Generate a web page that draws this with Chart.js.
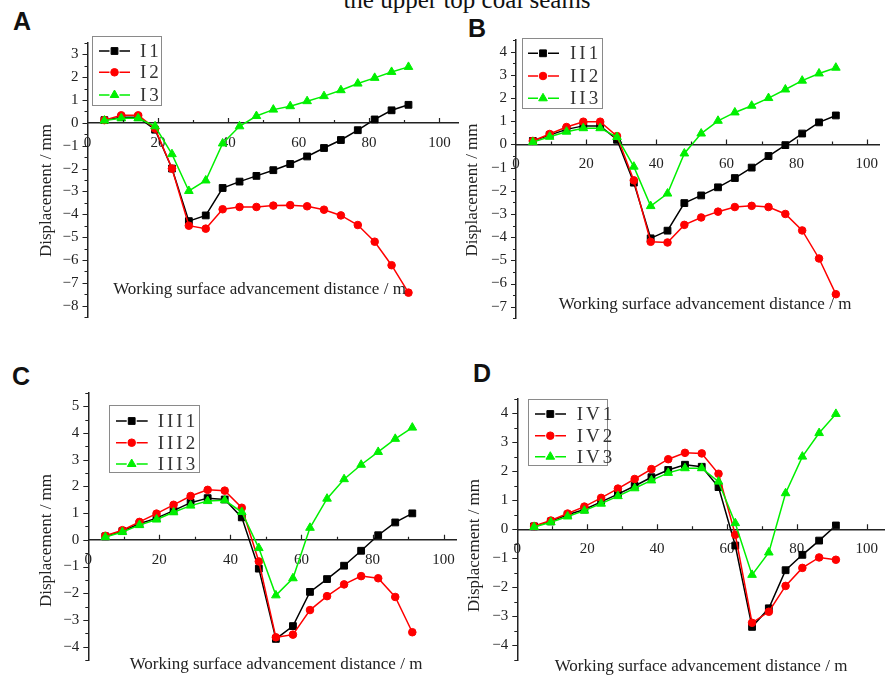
<!DOCTYPE html>
<html><head><meta charset="utf-8">
<script src="https://cdn.jsdelivr.net/npm/chart.js@4.4.0/dist/chart.umd.min.js"></script>
<style>
html,body{margin:0;padding:0;background:#fff;width:889px;height:678px;overflow:hidden;position:relative}
canvas{position:absolute;left:0;top:0}
.t{position:absolute;white-space:nowrap;color:#111}
.lab{font:bold 25px "Liberation Sans";line-height:25px}
</style></head><body>
<div class="t" style="left:0;width:934px;text-align:center;top:-12.6px;font:25px 'Liberation Serif';line-height:25px">the upper top coal seams</div>
<div class="t lab" style="left:13px;top:9px">A</div>
<div class="t lab" style="left:468px;top:16px">B</div>
<div class="t lab" style="left:12px;top:364px">C</div>
<div class="t lab" style="left:473px;top:361px">D</div>
<canvas id="cA" width="889" height="678"></canvas>
<canvas id="cB" width="889" height="678"></canvas>
<canvas id="cC" width="889" height="678"></canvas>
<canvas id="cD" width="889" height="678"></canvas>
<script>
// ---- data ----
const X = [4.8, 9.6, 14.4, 19.2, 24.0, 28.8, 33.6, 38.4, 43.2, 48.0, 52.8, 57.6, 62.4, 67.2, 72.0, 76.8, 81.6, 86.4, 91.2];
const X_TICKS = [0, 20, 40, 60, 80, 100];

const I1 = [0.12, 0.25, 0.25, -0.3, -2.0, -4.3, -4.05, -2.85, -2.57, -2.32, -2.07, -1.8, -1.47, -1.1, -0.75, -0.32, 0.15, 0.55, 0.79];
const I2 = [0.12, 0.33, 0.33, -0.25, -2.0, -4.5, -4.63, -3.78, -3.68, -3.68, -3.62, -3.6, -3.65, -3.8, -4.05, -4.47, -5.2, -6.23, -7.43];
const I3 = [0.1, 0.2, 0.2, -0.15, -1.37, -2.98, -2.52, -0.9, -0.15, 0.3, 0.58, 0.73, 0.95, 1.17, 1.43, 1.72, 1.97, 2.23, 2.45];

const II1 = [0.15, 0.4, 0.65, 0.8, 0.8, 0.2, -1.65, -4.05, -3.72, -2.53, -2.2, -1.85, -1.45, -1.0, -0.5, -0.03, 0.47, 0.95, 1.25];
const II2 = [0.15, 0.45, 0.75, 0.98, 0.98, 0.36, -1.55, -4.2, -4.23, -3.47, -3.15, -2.9, -2.7, -2.65, -2.7, -3.0, -3.71, -4.92, -6.46];
const II3 = [0.1, 0.33, 0.55, 0.7, 0.7, 0.32, -0.96, -2.66, -2.12, -0.39, 0.47, 1.02, 1.38, 1.67, 2.0, 2.37, 2.75, 3.06, 3.31];

const III1 = [0.13, 0.33, 0.6, 0.81, 1.09, 1.39, 1.56, 1.51, 0.84, -1.08, -3.71, -3.23, -1.95, -1.47, -0.97, -0.41, 0.17, 0.65, 0.99];
const III2 = [0.15, 0.36, 0.67, 0.98, 1.31, 1.64, 1.87, 1.84, 1.2, -0.81, -3.65, -3.55, -2.63, -2.11, -1.67, -1.36, -1.44, -2.14, -3.46];
const III3 = [0.1, 0.29, 0.55, 0.76, 1.03, 1.28, 1.45, 1.48, 1.04, -0.31, -2.08, -1.44, 0.45, 1.54, 2.27, 2.81, 3.29, 3.78, 4.2];

const IV1 = [0.1, 0.27, 0.5, 0.68, 0.94, 1.21, 1.49, 1.79, 2.04, 2.22, 2.15, 1.45, -0.56, -3.36, -2.72, -1.41, -0.88, -0.39, 0.13];
const IV2 = [0.11, 0.3, 0.54, 0.78, 1.08, 1.4, 1.73, 2.07, 2.41, 2.63, 2.61, 1.91, -0.19, -3.22, -2.84, -1.95, -1.33, -0.97, -1.05];
const IV3 = [0.08, 0.24, 0.44, 0.64, 0.88, 1.14, 1.41, 1.68, 1.94, 2.1, 2.1, 1.64, 0.21, -1.57, -0.8, 1.24, 2.5, 3.31, 3.97];

const Y_TICKS_A = [-8, -7, -6, -5, -4, -3, -2, -1, 0, 1, 2, 3];
const Y_TICKS_B = [-7, -6, -5, -4, -3, -2, -1, 0, 1, 2, 3, 4];
const Y_TICKS_C = [-4, -3, -2, -1, 0, 1, 2, 3, 4, 5];
const Y_TICKS_D = [-4, -3, -2, -1, 0, 1, 2, 3, 4];

const X_TITLE = 'Working surface advancement distance / m';
const Y_TITLE = 'Displacement / mm';

// ---- styles ----
const COLORS = ['#000000', '#ff0000', '#00f000'];
const STYLES = ['rect', 'circle', 'triangle'];
const RADII = [4.8, 3.8, 5];
const SERIF = "'Liberation Serif', 'Times New Roman', serif";
const TXT = '#222';
Chart.defaults.font.family = SERIF;
Chart.defaults.font.size = 15;
Chart.defaults.color = TXT;

function fmt(v) { return v < 0 ? '\u2212' + Math.abs(v) : String(v); }

function marker(ctx, style, r, x, y) {
  ctx.beginPath();
  if (style === 'rect') { const s = Math.SQRT1_2 * r; ctx.rect(x - s, y - s, 2 * s, 2 * s); }
  else if (style === 'circle') { ctx.arc(x, y, r, 0, Math.PI * 2); }
  else { ctx.moveTo(x, y - r); ctx.lineTo(x + r * Math.sin(Math.PI / 3), y + r / 2); ctx.lineTo(x - r * Math.sin(Math.PI / 3), y + r / 2); ctx.closePath(); }
  ctx.fill(); ctx.stroke();
}

const axisDecor = {
  id: 'axisDecor',
  afterDraw(chart, args, o) {
    const {ctx, scales: {x, y}} = chart;
    const y0 = y.getPixelForValue(0);
    const xl = x.getPixelForValue(0);
    ctx.save();
    ctx.strokeStyle = TXT; ctx.lineWidth = 1.2;
    ctx.beginPath();
    for (let k = Math.ceil(y.min * 2); k <= Math.floor(y.max * 2); k++) {
      const py = Math.round(y.getPixelForValue(k / 2)) + 0.5;
      const len = (k % 2 === 0) ? 5 : 3;
      ctx.moveTo(xl - len, py); ctx.lineTo(xl, py);
    }
    for (let v = 10; v <= x.max; v += 10) {
      const px = Math.round(x.getPixelForValue(v)) + 0.5;
      const len = (v % 20 === 0) ? 5 : 3;
      ctx.moveTo(px, y0); ctx.lineTo(px, y0 - len);
    }
    ctx.stroke();
    ctx.fillStyle = TXT;
    ctx.font = '17px ' + SERIF;
    ctx.textAlign = 'center'; ctx.textBaseline = 'alphabetic';
    ctx.fillText(X_TITLE, o.xtx, o.xty);
    ctx.translate(o.ytx, o.yty); ctx.rotate(-Math.PI / 2);
    ctx.textBaseline = 'middle';
    ctx.fillText(Y_TITLE, 0, 0);
    ctx.restore();
  }
};

const boxLegend = {
  id: 'boxLegend',
  afterDraw(chart, args, o) {
    const ctx = chart.ctx;
    ctx.save();
    ctx.strokeStyle = '#8a8a8a'; ctx.lineWidth = 1;
    ctx.strokeRect(Math.round(o.x) + 0.5, Math.round(o.y) + 0.5, Math.round(o.w), Math.round(o.h));
    chart.data.datasets.forEach((ds, i) => {
      const cy = o.rows[i];
      ctx.strokeStyle = ds.borderColor; ctx.fillStyle = ds.backgroundColor; ctx.lineWidth = 1.5;
      ctx.beginPath();
      ctx.moveTo(o.lx0, cy); ctx.lineTo(o.lm - 5, cy);
      ctx.moveTo(o.lm + 5, cy); ctx.lineTo(o.lx1, cy);
      ctx.stroke();
      ctx.lineWidth = 1;
      marker(ctx, ds.pointStyle, ds.pointRadius, o.lm, cy);
      ctx.fillStyle = '#333';
      ctx.font = '19px ' + SERIF;
      if ('letterSpacing' in ctx) ctx.letterSpacing = '3px';
      ctx.textAlign = 'left'; ctx.textBaseline = 'middle';
      ctx.fillText(ds.label, o.tx, cy + 1);
      if ('letterSpacing' in ctx) ctx.letterSpacing = '0px';
    });
    ctx.restore();
  }
};

function makePanel(id, names, series, p) {
  return new Chart(document.getElementById(id), {
    type: 'line',
    data: {
      datasets: series.map((s, i) => ({
        label: names[i],
        data: X.map((xv, j) => ({x: xv, y: s[j]})),
        borderColor: COLORS[i], backgroundColor: COLORS[i],
        pointStyle: STYLES[i], pointRadius: RADII[i], pointBorderWidth: 1,
        borderWidth: 1.5, tension: 0, order: 2 - i
      }))
    },
    options: {
      responsive: false, animation: false, events: [],
      layout: {padding: p.pad, autoPadding: false},
      plugins: {
        legend: {display: false}, tooltip: {enabled: false},
        axisDecor: p.titles, boxLegend: p.legend
      },
      scales: {
        x: {
          type: 'linear', position: {y: 0}, min: 0, max: p.xMax,
          grid: {display: false, drawTicks: false},
          border: {display: true, color: TXT, width: 1.5},
          ticks: {font: {family: SERIF, size: 15}, color: TXT, padding: 11, maxRotation: 0, autoSkip: false, callback: v => fmt(v)},
          afterBuildTicks: s => { s.ticks = X_TICKS.map(v => ({value: v})); }
        },
        y: {
          type: 'linear', min: p.yMin, max: p.yMax,
          grid: {display: false, drawTicks: false},
          border: {display: true, color: TXT, width: 1.5},
          ticks: {font: {family: SERIF, size: 15}, color: TXT, padding: 9, autoSkip: false, callback: v => fmt(v)},
          afterBuildTicks: s => { s.ticks = p.yTicks.map(v => ({value: v})); },
          afterFit: s => { s.width = 40; }
        }
      }
    },
    plugins: [axisDecor, boxLegend]
  });
}

makePanel('cA', ['I1', 'I2', 'I3'], [I1, I2, I3], {
  pad: {left: 47.5, right: 430.2, top: 42.9, bottom: 360.9},
  xMax: 105.5, yMin: -8.5, yMax: 3.5, yTicks: Y_TICKS_A,
  titles: {xtx: 259.5, xty: 294, ytx: 47, yty: 190.5},
  legend: {x: 92.3, y: 35.7, w: 69.4, h: 68.6, rows: [51, 72.3, 95], lx0: 99, lm: 114.5, lx1: 130, tx: 140}
});
makePanel('cB', ['II1', 'II2', 'II3'], [II1, II2, II3], {
  pad: {left: 476, right: 1, top: 40.1, bottom: 359.7},
  xMax: 103.6, yMin: -7.5, yMax: 4.5, yTicks: Y_TICKS_B,
  titles: {xtx: 705, xty: 309.3, ytx: 473, yty: 190},
  legend: {x: 521.7, y: 38.3, w: 80, h: 70, rows: [53.3, 76, 98.3], lx0: 528, lm: 543, lx1: 559, tx: 570}
});
makePanel('cC', ['III1', 'III2', 'III3'], [III1, III2, III3], {
  pad: {left: 48.3, right: 433, top: 392.9, bottom: 9.9},
  xMax: 103.5, yMin: -4.5, yMax: 5.5, yTicks: Y_TICKS_C,
  titles: {xtx: 276, xty: 669.3, ytx: 46.7, yty: 540.5},
  legend: {x: 109.3, y: 405, w: 89.7, h: 67.3, rows: [421, 442.7, 464], lx0: 116, lm: 131.7, lx1: 147.7, tx: 157.7}
});
makePanel('cD', ['IV1', 'IV2', 'IV3'], [IV1, IV2, IV3], {
  pad: {left: 477.3, right: 2.3, top: 398.5, bottom: 6.4},
  xMax: 105.2, yMin: -4.5, yMax: 4.5, yTicks: Y_TICKS_D,
  titles: {xtx: 701, xty: 671, ytx: 475, yty: 545.5},
  legend: {x: 527.7, y: 399, w: 79, h: 66, rows: [414, 435.7, 456.7], lx0: 535, lm: 550.3, lx1: 566, tx: 576.7}
});
</script>
</body></html>
